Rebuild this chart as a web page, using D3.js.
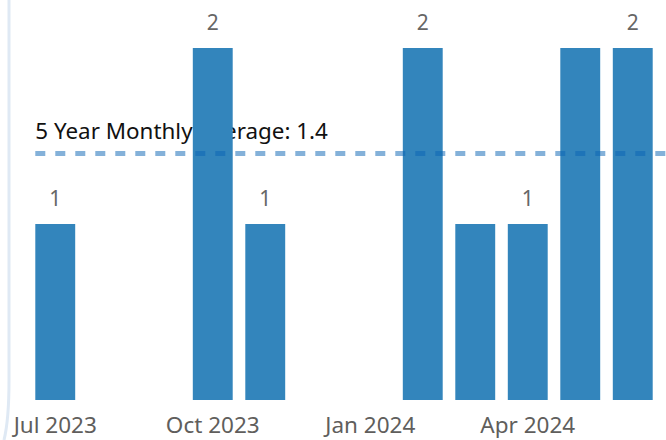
<!DOCTYPE html>
<html>
<head>
<meta charset="utf-8">
<script src="https://cdn.jsdelivr.net/npm/d3@7"></script>
<style>
  body { margin: 0; background: #fff; }
  svg { display: block; font-family: "Segoe UI", "Noto Sans", sans-serif; }
  .tick-label { fill: #605e5c; font-size: 22.5px; }
  .bar-label { fill: #666; font-size: 21px; }
  .avg-label { fill: #111; font-size: 22.4px; }
</style>
</head>
<body>
<div id="chart"></div>
<script>
// months shown on the x axis (Jul 2023 - Jun 2024)
const months = ['2023-07', '2023-08', '2023-09', '2023-10', '2023-11', '2023-12',
                '2024-01', '2024-02', '2024-03', '2024-04', '2024-05', '2024-06'];
const counts = [1, 0, 0, 2, 1, 0, 0, 2, 1, 1, 2, 2];
// months whose value label is visible in the picture
const labelledMonths = ['2023-07', '2023-10', '2023-11', '2024-02', '2024-04', '2024-06'];
const tickMonths = ['2023-07', '2023-10', '2024-01', '2024-04'];
const tickLabels = ['Jul 2023', 'Oct 2023', 'Jan 2024', 'Apr 2024'];
const averageValue = 1.4;
const averageText = '5 Year Monthly Average: 1.4';

const width = 666, height = 440;
const data = months.map((m, i) => ({month: m, value: counts[i]}));

const svg = d3.select('#chart').append('svg')
    .attr('width', width)
    .attr('height', height);

// faint card edge on the left
svg.append('path')
    .attr('d', 'M9,0 L9,380 Q9,420 4,440')
    .attr('fill', 'none')
    .attr('stroke', '#dfe9f4')
    .attr('stroke-width', 3);

const xScale = d3.scaleBand()
    .domain(months)
    .range([29, 659])
    .paddingInner(0.24)
    .paddingOuter(0.12);

const yScale = d3.scaleLinear()
    .domain([0, 2])
    .range([400, 48]);

// average label sits behind the bars
svg.append('text')
    .attr('class', 'avg-label')
    .attr('x', xScale(months[0]))
    .attr('y', yScale(averageValue) - 15)
    .text(averageText);

svg.selectAll('.bar')
    .data(data.filter(d => d.value > 0))
    .join('rect')
    .attr('class', 'bar')
    .attr('x', d => xScale(d.month))
    .attr('y', d => yScale(d.value))
    .attr('width', xScale.bandwidth())
    .attr('height', d => yScale(0) - yScale(d.value))
    .attr('fill', '#3385bc');

svg.selectAll('.bar-label')
    .data(data.filter(d => labelledMonths.includes(d.month)))
    .join('text')
    .attr('class', 'bar-label')
    .attr('x', d => xScale(d.month) + xScale.bandwidth() / 2)
    .attr('y', d => yScale(d.value) - 18)
    .attr('text-anchor', 'middle')
    .text(d => d.value);

// dashed average line on top
svg.append('line')
    .attr('x1', xScale(months[0]))
    .attr('x2', width)
    .attr('y1', yScale(averageValue))
    .attr('y2', yScale(averageValue))
    .attr('stroke', '#0a64b4')
    .attr('stroke-opacity', 0.5)
    .attr('stroke-width', 5)
    .attr('stroke-dasharray', '10,10');

const xAxis = d3.axisBottom(xScale)
    .tickValues(tickMonths)
    .tickSize(0)
    .tickFormat((d, i) => tickLabels[i]);

const xAxisG = svg.append('g')
    .attr('transform', `translate(0, ${yScale(0)})`)
    .call(xAxis);
xAxisG.select('.domain').remove();
xAxisG.selectAll('text')
    .attr('class', 'tick-label')
    .attr('fill', null)
    .attr('dy', null)
    .attr('y', 33)
    .style('font-size', null)
    .style('font-family', null);
xAxisG.attr('font-size', null).attr('font-family', null);
</script>
</body>
</html>
